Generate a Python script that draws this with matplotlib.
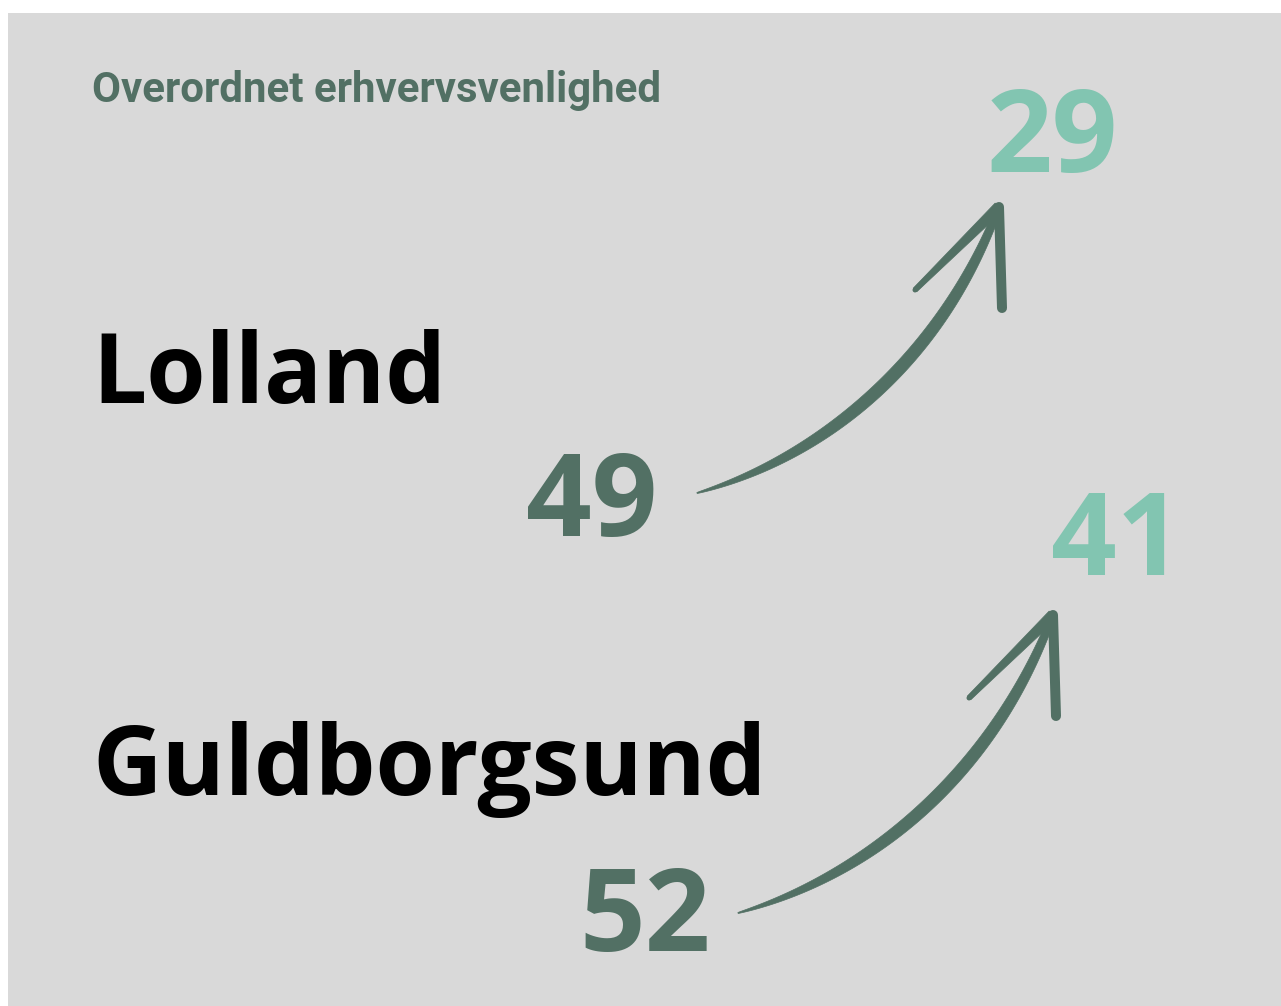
import numpy as np
import matplotlib
matplotlib.use("Agg")
import matplotlib.pyplot as plt
from matplotlib.patches import Rectangle, Polygon

# ---- data ----
title = "Overordnet erhvervsvenlighed"
regions = ["Lolland", "Guldborgsund"]
rank_before = [49, 52]
rank_after = [29, 41]

# ---- style ----
BG = "#d9d9d9"
DARK = "#527064"
LIGHT = "#82c5b1"
W, H = 1281, 1006
DPI = 100

def px2pt(px):
    return px * 72.0 / DPI

fig = plt.figure(figsize=(W / DPI, H / DPI), dpi=DPI, facecolor="white")
ax = fig.add_axes([0, 0, 1, 1])
ax.set_xlim(0, W)
ax.set_ylim(H, 0)
ax.axis("off")

ax.add_patch(Rectangle((8, 13), W - 8, H - 13, facecolor=BG, edgecolor="none", zorder=0))

ax.text(92, 102, title, fontsize=px2pt(42), fontweight="bold", color=DARK,
        family=["Roboto", "DejaVu Sans"], va="baseline", ha="left")

# layout per region (pixel anchors)
name_pos = [(92, 403), (92, 795)]
before_pos = [(526, 536), (579, 951)]
after_pos = [(987, 172), (1051, 575)]
arrow_start = [(697, 493), (738, 913)]
arrow_tip = [(997, 212), (1051, 620)]

for i, name in enumerate(regions):
    ax.text(*name_pos[i], name, fontsize=px2pt(96), fontweight="bold", color="black",
            family=["Open Sans", "DejaVu Sans"], va="baseline", ha="left")
    ax.text(*before_pos[i], str(rank_before[i]), fontsize=px2pt(115), fontweight="bold",
            color=DARK, family=["Open Sans", "DejaVu Sans"], va="baseline", ha="left")
    ax.text(*after_pos[i], str(rank_after[i]), fontsize=px2pt(115), fontweight="bold",
            color=LIGHT, family=["Open Sans", "DejaVu Sans"], va="baseline", ha="left")

    # hand-drawn style arrow (cubic curve with tapered width)
    p0 = np.array(arrow_start[i], float)
    p3 = np.array(arrow_tip[i], float)
    d = p3 - p0
    p1 = p0 + np.array([0.40 * d[0], 0.12 * d[1]])
    p2 = p0 + np.array([0.80 * d[0], 0.45 * d[1]])
    t = np.linspace(0, 1, 150)[:, None]
    curve = ((1 - t) ** 3 * p0 + 3 * (1 - t) ** 2 * t * p1
             + 3 * (1 - t) * t ** 2 * p2 + t ** 3 * p3)
    deriv = (3 * (1 - t) ** 2 * (p1 - p0) + 6 * (1 - t) * t * (p2 - p1)
             + 3 * t ** 2 * (p3 - p2))
    tang = deriv / np.linalg.norm(deriv, axis=1, keepdims=True)
    normal = np.column_stack([-tang[:, 1], tang[:, 0]])
    tt = t[:, 0]
    width = 1.0 + 11.5 * np.sin(np.pi * np.clip(tt * 0.85, 0, 1)) ** 0.8
    left = curve + normal * width[:, None] / 2
    right = curve - normal * width[:, None] / 2
    poly = np.vstack([left, right[::-1]])
    ax.add_patch(Polygon(poly, closed=True, facecolor=DARK, edgecolor=DARK, lw=0.5, zorder=3))

    # barbs
    tip = p3 + np.array([2, -5])
    lb = p3 + np.array([-82, 78])
    rb = p3 + np.array([5, 96])
    n = 40
    s = np.linspace(0, 1, n)[:, None]
    seg = tip + s * (lb - tip)
    dv = (lb - tip) / np.linalg.norm(lb - tip)
    nv = np.array([-dv[1], dv[0]])
    wv = 11 - 6 * s[:, 0]
    poly = np.vstack([seg + nv * wv[:, None] / 2, (seg - nv * wv[:, None] / 2)[::-1]])
    ax.add_patch(Polygon(poly, closed=True, facecolor=DARK, edgecolor=DARK, lw=0.5,
                         joinstyle="round", zorder=3))
    ax.plot([tip[0], lb[0]], [tip[1], lb[1]], color=DARK, lw=px2pt(5), solid_capstyle="round", zorder=3)
    ax.plot([tip[0], rb[0]], [tip[1], rb[1]], color=DARK, lw=px2pt(10),
            solid_capstyle="round", solid_joinstyle="round", zorder=3)

fig.savefig("out.png", dpi=DPI, facecolor="white")
